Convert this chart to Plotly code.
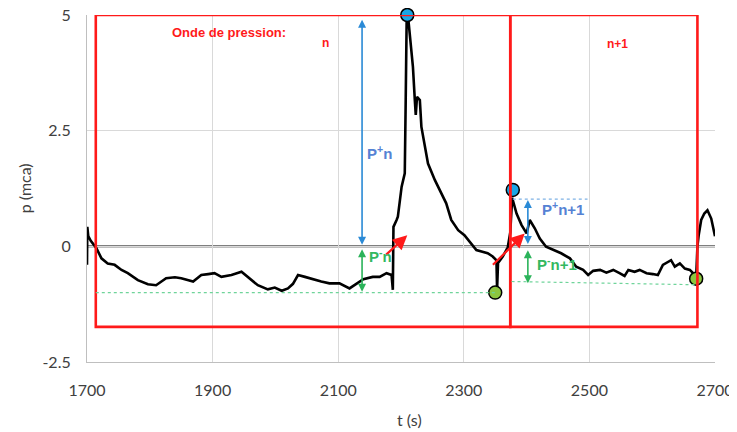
import plotly.graph_objects as go

# ---- data ----
t = [1700, 1700.5, 1702, 1706, 1715, 1723, 1733, 1744, 1755, 1765, 1781, 1797, 1810, 1818, 1826,
     1840, 1850, 1869, 1882, 1893, 1903, 1914, 1930, 1946, 1956, 1972, 1988, 1999, 2010, 2020,
     2028, 2036, 2047, 2063, 2073, 2086, 2102, 2118, 2129, 2140, 2155, 2166, 2177, 2185, 2187,
     2188, 2193, 2195, 2201, 2204, 2206, 2207.5, 2209, 2211, 2214, 2219, 2222, 2223.5, 2225.5,
     2230, 2232.5, 2238, 2243, 2254, 2264, 2272, 2280, 2291, 2301, 2312, 2320, 2331, 2338, 2346,
     2352, 2353, 2354.5, 2362, 2370, 2374, 2377, 2384, 2392, 2400, 2405, 2413, 2421, 2431, 2442,
     2455, 2469, 2479, 2490, 2498, 2506, 2517, 2527, 2538, 2548, 2556, 2562, 2572, 2580, 2591,
     2601, 2609, 2617, 2625, 2630, 2636, 2644, 2652, 2660, 2668, 2670, 2672, 2674, 2678, 2683,
     2688, 2694, 2700]
p = [-0.40, 0.42, 0.22, 0.12, -0.04, -0.26, -0.37, -0.40, -0.51, -0.58, -0.73, -0.82, -0.84, -0.76, -0.69,
     -0.67, -0.69, -0.76, -0.62, -0.60, -0.58, -0.66, -0.62, -0.55, -0.66, -0.84, -0.93, -0.89, -0.96, -0.91,
     -0.81, -0.62, -0.66, -0.73, -0.76, -0.80, -0.80, -0.91, -0.80, -0.71, -0.66, -0.66, -0.58, -0.62, -0.94,
     0.42, 0.57, 0.64, 1.29, 1.47, 1.58, 3.16, 4.89, 5.0, 4.6, 3.88, 3.16, 2.84, 3.23,
     3.16, 2.58, 2.15, 1.79, 1.43, 1.15, 0.93, 0.57, 0.35, 0.24, 0.06, -0.08, -0.12, -0.15, -0.22,
     -0.30, -0.94, -0.36, -0.22, -0.02, 0.30, 1.05, 0.71, 0.46, 0.28, 0.57, 0.39, 0.17, -0.01, -0.08,
     -0.15, -0.26, -0.44, -0.51, -0.62, -0.53, -0.51, -0.57, -0.51, -0.58, -0.64, -0.51, -0.55, -0.51, -0.58,
     -0.60, -0.62, -0.40, -0.33, -0.30, -0.44, -0.37, -0.48, -0.51, -0.62, -0.68, 0.0, 0.24, 0.57, 0.71,
     0.78, 0.60, 0.22]

peak_t = [2210, 2378]
peak_p = [5.0, 1.22]
low_t = [2350, 2670]
low_p = [-1.0, -0.70]

x_ticks = [1700, 1900, 2100, 2300, 2500, 2700]
y_ticks = [-2.5, 0, 2.5, 5]
y_tick_text = ["-2.5", "0", "2.5", "5"]

# wave boxes: (start, end, bottom, top)
box_n = (1714, 2374, -1.74, 5.0)
box_n1 = (2374, 2672, -1.74, 5.0)

RED = "#ff1a1a"
BLUE_A = "#2a8ad6"
BLUE_T = "#5582d4"
GREEN_A = "#2bb35a"
GREEN_T = "#33b85f"
GREEN_DOT_LINE = "#6fd49a"
GRID = "#d9d9d9"
TXT = "#404040"

fig = go.Figure()
fig.add_trace(go.Scatter(x=t, y=p, mode="lines",
                         line=dict(color="black", width=2.6), showlegend=False,
                         hoverinfo="skip"))
fig.add_trace(go.Scatter(x=peak_t, y=peak_p, mode="markers", cliponaxis=False,
                         marker=dict(size=13, color="#1aa6e6", line=dict(color="black", width=1.5)),
                         showlegend=False))
fig.add_trace(go.Scatter(x=low_t, y=low_p, mode="markers", cliponaxis=False,
                         marker=dict(size=13, color="#8cc63f", line=dict(color="black", width=1.5)),
                         showlegend=False))

shapes = []
for b in (box_n, box_n1):
    shapes.append(dict(type="rect", xref="x", yref="y", x0=b[0], x1=b[1], y0=b[2], y1=b[3],
                       line=dict(color=RED, width=2.6), layer="above"))
# zero line
shapes.append(dict(type="line", xref="x", yref="y", x0=1700, x1=2700, y0=0, y1=0,
                   line=dict(color="black", width=1.6), layer="below"))
# green dotted reference lines
shapes.append(dict(type="line", xref="x", yref="y", x0=1714, x1=2350, y0=-1.0, y1=-1.0,
                   line=dict(color=GREEN_DOT_LINE, width=1.2, dash="dot")))
shapes.append(dict(type="line", xref="x", yref="y", x0=2376, x1=2668, y0=-0.76, y1=-0.83,
                   line=dict(color=GREEN_DOT_LINE, width=1.2, dash="dot")))
# blue dotted reference line
shapes.append(dict(type="line", xref="x", yref="y", x0=2378, x1=2497, y0=1.02, y1=1.02,
                   line=dict(color="#7fb2e5", width=1.2, dash="dot")))
fig.update_layout(shapes=shapes)

def darrow(x, y0, y1, color):
    fig.add_annotation(x=x, y=y1, ax=x, ay=y0, xref="x", yref="y", axref="x", ayref="y",
                       showarrow=True, arrowhead=2, startarrowhead=2, arrowside="end+start",
                       arrowsize=1, startarrowsize=1, arrowwidth=1.6, arrowcolor=color, text="")

darrow(2138, 0.0, 4.9, BLUE_A)
darrow(2138, -0.03, -0.98, GREEN_A)
darrow(2402, 0.02, 1.0, BLUE_A)
darrow(2402, -0.05, -0.80, GREEN_A)

def rarrow(x0, y0, x1, y1):
    fig.add_annotation(x=x1, y=y1, ax=x0, ay=y0, xref="x", yref="y", axref="x", ayref="y",
                       showarrow=True, arrowhead=2, arrowsize=1.3, arrowwidth=2.2,
                       arrowcolor=RED, text="")

rarrow(2174, -0.21, 2210, 0.24)
rarrow(2344, -0.43, 2397, 0.28)

def label(x, y, text, color, size=15):
    fig.add_annotation(x=x, y=y, xref="x", yref="y", text=text, showarrow=False,
                       font=dict(family="Liberation Sans", size=size, color=color))

label(2166, 2.02, "<b>P<sup>+</sup>n</b>", BLUE_T)
label(2168, -0.19, "<b>P<sup>-</sup>n</b>", GREEN_T)
label(2458, 0.82, "<b>P<sup>+</sup>n+1</b>", BLUE_T)
label(2449, -0.38, "<b>P<sup>-</sup>n+1</b>", GREEN_T)
label(1926, 4.63, "<b>Onde de pression:</b>", RED, 13)
label(2079, 4.39, "<b>n</b>", RED, 12)
label(2545, 4.37, "<b>n+1</b>", RED, 12)

# axis titles
fig.add_annotation(x=0.514, y=-0.167, xref="paper", yref="paper", text="t (s)", showarrow=False,
                   font=dict(family="Lato", size=16, color=TXT), yanchor="middle")
fig.add_annotation(x=-0.099, y=0.5, xref="paper", yref="paper", text="p (mca)", showarrow=False,
                   textangle=-90, font=dict(family="Lato", size=16, color=TXT), xanchor="center")

fig.update_xaxes(range=[1700, 2700], tickvals=x_ticks, ticktext=[str(v) for v in x_ticks],
                 showgrid=True, gridcolor=GRID, gridwidth=1, zeroline=False,
                 showline=True, linecolor="#bfbfbf", linewidth=1.2, mirror=False,
                 ticks="", ticklabelstandoff=14, ticklabeloverflow="allow",
                 tickfont=dict(family="Lato", size=16, color=TXT))
fig.update_yaxes(range=[-2.5, 5], tickvals=y_ticks, ticktext=y_tick_text,
                 showgrid=True, gridcolor=GRID, gridwidth=1, zeroline=False,
                 showline=True, linecolor="#bfbfbf", linewidth=1.2,
                 ticks="", ticklabelstandoff=12, ticklabeloverflow="allow",
                 tickfont=dict(family="Lato", size=16, color=TXT))

# the page adds an 8 px body margin, so the figure is sized to fill the rest of the window
fig.update_layout(width=729, height=424, margin=dict(l=79, r=22, t=7, b=70, autoexpand=False),
                  plot_bgcolor="white", paper_bgcolor="white", showlegend=False)

fig.write_html("out.html")
